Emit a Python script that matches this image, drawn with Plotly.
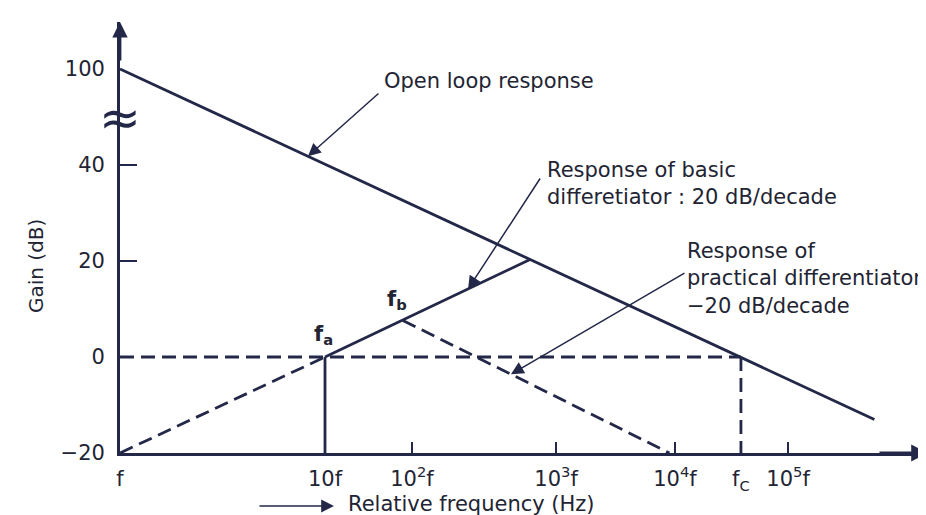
import numpy as np
import plotly.graph_objects as go

# ---------------- data (schematic Bode diagram; x = drawn decades above f) ----------------
freq_tick_pos = [0.0, 1.0, 1.424, 2.127, 2.707, 3.029, 3.259]
freq_tick_text = ["f", "10f", "10<sup>2</sup>f", "10<sup>3</sup>f", "10<sup>4</sup>f",
                  "f<sub>C</sub>", "10<sup>5</sup>f"]
freq_minor_ticks = [1.424, 2.127, 2.707, 3.259]

gain_tick_vals = [-20, 0, 20, 40, 100]
gain_tick_text = ["\u221220", "0", "20", "40", "100"]
gain_minor_ticks = [20, 40]

open_loop_freq = [0.0, 3.029, 3.68]
open_loop_gain = [100, 0, -13]

basic_freq = [0.0, 1.0, 2.0]
basic_gain = [-20, 0, 20.3]

practical_freq = [1.38, 2.68]
practical_gain = [7.6, -20]

fa_freq, fa_gain = 1.0, 0
fb_freq, fb_gain = 1.38, 7.6
fc_freq, fc_gain = 3.029, 0

# ---------------- helpers ----------------
def gy(g):
    """broken gain axis: above 40 dB the scale is compressed (100 dB drawn at 60)"""
    return g if g <= 40 else 40 + (g - 40) / 3.0

W, H = 926, 515
ML, MR, MT, MB = 112, 2, 14, 70
PX_PER_DEC = 205.0
PX_PER_DB = 4.8
x_max = (W - ML - MR) / PX_PER_DEC
y_min = gain_tick_vals[0]
y_max = y_min + (H - MT - MB) / PX_PER_DB

def paper_x(px):
    return (px - ML) / (W - ML - MR)

def paper_y(py):
    return (H - MB - py) / (H - MT - MB)

LINE = "#232848"
TEXT = "#222433"
FONT = "DejaVu Sans"
DASH = "14px,7px"
FS = 21

fig = go.Figure()

def seg(x, y, dash=None, width=2.8):
    fig.add_trace(go.Scatter(x=x, y=[gy(v) for v in y], mode="lines",
                             line=dict(color=LINE, width=width, dash=dash),
                             hoverinfo="skip", showlegend=False, cliponaxis=False))

# open loop response
seg(open_loop_freq, open_loop_gain)
# basic differentiator: dashed below fa, solid above
seg(basic_freq[:2], basic_gain[:2], dash=DASH)
seg(basic_freq[1:], basic_gain[1:])
# practical differentiator
seg(practical_freq, practical_gain, dash=DASH)
# 0 dB reference up to fc
seg([0.0, fc_freq], [fc_gain, fc_gain], dash=DASH)
# vertical drops
seg([fa_freq, fa_freq], [fa_gain, y_min])
seg([fc_freq, fc_freq], [fc_gain, y_min], dash=DASH)

# ---------------- annotations ----------------
ann = []
tf = dict(family=FONT, size=FS, color=TEXT)

# axis arrowheads
ann.append(dict(x=0, y=y_max, xref="x", yref="y", ax=0, ay=40, text="",
                showarrow=True, arrowhead=2, arrowsize=1.1, arrowwidth=2.8, arrowcolor=LINE))
ann.append(dict(x=x_max - 4 / PX_PER_DEC, y=y_min, xref="x", yref="y", ax=-50, ay=0, text="",
                showarrow=True, arrowhead=2, arrowsize=1.2, arrowwidth=2.8, arrowcolor=LINE))

# call-out arrows (tips lie on the curves)
def on_curve(u, fx, fyv):
    return float(np.interp(u, fx, [gy(v) for v in fyv]))

u1 = 0.917
ann.append(dict(x=u1, y=on_curve(u1, open_loop_freq, open_loop_gain), xref="x", yref="y",
                ax=72, ay=-64, text="", showarrow=True, arrowhead=2, arrowsize=1.7,
                arrowwidth=1.5, arrowcolor=LINE))
u2 = 1.698
ann.append(dict(x=u2, y=on_curve(u2, basic_freq, basic_gain), xref="x", yref="y",
                ax=73, ay=-112, text="", showarrow=True, arrowhead=2, arrowsize=1.7,
                arrowwidth=1.5, arrowcolor=LINE))
u3 = 1.907
ann.append(dict(x=u3, y=on_curve(u3, practical_freq, practical_gain), xref="x", yref="y",
                ax=175, ay=-102, text="", showarrow=True, arrowhead=2, arrowsize=1.7,
                arrowwidth=1.5, arrowcolor=LINE))

# call-out texts
ann.append(dict(x=paper_x(374), y=paper_y(73), xref="paper", yref="paper",
                text="Open loop response", showarrow=False, xanchor="left",
                yanchor="middle", font=tf))
ann.append(dict(x=paper_x(537), y=paper_y(175), xref="paper", yref="paper",
                text="Response of basic<br>differetiator : 20 dB/decade", showarrow=False,
                xanchor="left", yanchor="middle", align="left", font=tf))
ann.append(dict(x=paper_x(677), y=paper_y(270), xref="paper", yref="paper",
                text="Response of<br>practical differentiator<br>\u221220 dB/decade",
                showarrow=False, xanchor="left", yanchor="middle", align="left", font=tf))

# corner-frequency labels
ann.append(dict(x=fa_freq, y=gy(fa_gain), xref="x", yref="y", text="<b>f<sub>a</sub></b>",
                showarrow=False, xshift=-2, yshift=22, font=tf))
ann.append(dict(x=fb_freq, y=gy(fb_gain), xref="x", yref="y", text="<b>f<sub>b</sub></b>",
                showarrow=False, xshift=-6, yshift=21, font=tf))

# axis titles
ann.append(dict(x=paper_x(28), y=paper_y(258), xref="paper", yref="paper",
                text="Gain (dB)", textangle=-90, showarrow=False,
                xanchor="center", yanchor="middle",
                font=dict(family=FONT, size=20, color=TEXT)))
ann.append(dict(x=paper_x(338), y=paper_y(496), xref="paper", yref="paper",
                text="Relative frequency (Hz)", showarrow=False, xanchor="left",
                yanchor="middle", font=tf))
ann.append(dict(x=paper_x(326), y=paper_y(498), xref="paper", yref="paper",
                ax=-76, ay=0, text="", showarrow=True, arrowhead=2, arrowsize=1.6,
                arrowwidth=1.6, arrowcolor=LINE))

# axis break symbol
ann.append(dict(x=0, y=49.7, xref="x", yref="y", text="\u2248", showarrow=False,
                font=dict(family=FONT, size=50, color=LINE)))

shapes = [dict(type="rect", xref="x", yref="y", x0=-0.03, x1=0.03, y0=48.3, y1=51.0,
               fillcolor="white", line=dict(width=0), layer="above")]

fig.update_layout(
    width=W, height=H,
    margin=dict(l=ML, r=MR, t=MT, b=MB),
    paper_bgcolor="white", plot_bgcolor="white",
    font=dict(family=FONT, size=FS, color=TEXT),
    annotations=ann, shapes=shapes,
    xaxis=dict(range=[0, x_max], showgrid=False, zeroline=False,
               showline=True, linecolor=LINE, linewidth=2.8,
               tickmode="array", tickvals=freq_tick_pos, ticktext=freq_tick_text,
               ticks="", ticklabelstandoff=5,
               tickfont=dict(family=FONT, size=FS, color=TEXT),
               minor=dict(tickmode="array", tickvals=freq_minor_ticks, ticks="inside",
                          ticklen=11, tickwidth=2.2, tickcolor=LINE, showgrid=False),
               fixedrange=True),
    yaxis=dict(range=[y_min, y_max], showgrid=False, zeroline=False,
               showline=True, linecolor=LINE, linewidth=2.8,
               tickmode="array", tickvals=[gy(v) for v in gain_tick_vals],
               ticktext=gain_tick_text, ticks="", ticklabelstandoff=8,
               tickfont=dict(family=FONT, size=FS, color=TEXT),
               minor=dict(tickmode="array", tickvals=[gy(v) for v in gain_minor_ticks],
                          ticks="inside", ticklen=17, tickwidth=2.2, tickcolor=LINE,
                          showgrid=False),
               fixedrange=True),
)

fig.write_html("out.html")
